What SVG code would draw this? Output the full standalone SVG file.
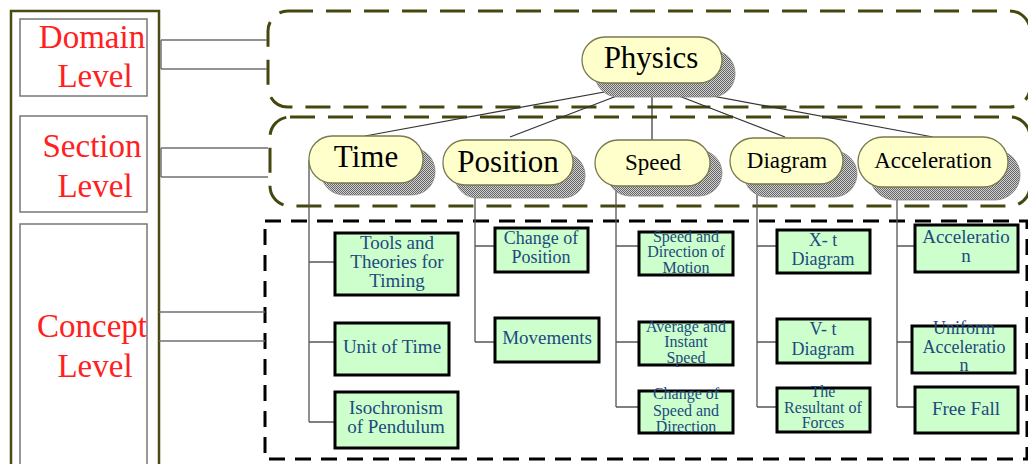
<svg xmlns="http://www.w3.org/2000/svg" width="1028" height="464" viewBox="0 0 1028 464">
<defs>
<pattern id="dots" width="2" height="2" patternUnits="userSpaceOnUse">
<rect width="2" height="2" fill="#d0d0d0"/>
<rect width="1" height="1" fill="#666"/>
<rect x="1" y="1" width="1" height="1" fill="#666"/>
</pattern>
<style>
.lvl{fill:none;stroke:#4a4a12;stroke-width:2.5}
.lbox{fill:#fff;stroke:#777;stroke-width:1.5}
.lt{font-family:"Liberation Serif",serif;font-size:33px;fill:#ff2020;text-anchor:middle}
.br{fill:none;stroke:#707070;stroke-width:1.5}
.zone{fill:none;stroke:#46460f;stroke-width:3;stroke-dasharray:25 13}
.czone{fill:none;stroke:#000;stroke-width:3;stroke-dasharray:16 10}
.sh{fill:url(#dots);stroke:#888;stroke-width:0.8}
.pill{fill:#ffffcc;stroke:#7a7a50;stroke-width:1.3}
.nt{font-family:"Liberation Serif",serif;fill:#000;text-anchor:middle}
.cb{fill:#ccffcc;stroke:#000;stroke-width:3}
.ct{font-family:"Liberation Serif",serif;fill:#1d4a7e;text-anchor:middle;font-size:19px}
.cm{font-size:18px}
.cs{font-size:16px}
.ln{fill:none;stroke:#333;stroke-width:1.2}
.gl{fill:none;stroke:#555;stroke-width:1.3}
</style>
</defs>
<rect width="1028" height="464" fill="#fff"/>

<g id="levels">
<rect class="lvl" x="11" y="11" width="148" height="470"/>
<g id="domain-level">
<rect class="lbox" x="20" y="19" width="127" height="77"/>
<text class="lt" x="92" y="48">Domain</text>
<text class="lt" x="95" y="87">Level</text>
</g>
<g id="section-level">
<rect class="lbox" x="20" y="116" width="127" height="96"/>
<text class="lt" x="92" y="157">Section</text>
<text class="lt" x="95" y="197">Level</text>
</g>
<g id="concept-level">
<rect class="lbox" x="20" y="224" width="127" height="260"/>
<text class="lt" x="92" y="337">Concept</text>
<text class="lt" x="95" y="377">Level</text>
</g>
</g>

<g id="zones">
<rect class="zone" x="268" y="11" width="762" height="96" rx="20" ry="20"/>
<rect class="zone" x="270" y="117" width="760" height="89" rx="20" ry="20"/>
<rect class="czone" x="265" y="221" width="762" height="238"/>
</g>

<g id="connectors">
<path class="br" d="M161,40 H267 M161,69 H267 M161,40 V69"/>
<path class="br" d="M161,148 H268 M161,177 H268 M161,148 V177"/>
<path class="br" d="M159,312 H265 M159,341 H265"/>
<path class="ln" d="M648,84 L365,136 M648,84 L510,137 M652,84 V140 M648,84 L785,137 M648,84 L933,137"/>
<path class="gl" d="M309,160 V422 M309,262 H335 M309,342 H335 M309,422 H335"/>
<path class="gl" d="M475,183 V342 M475,246 H495 M475,342 H495"/>
<path class="gl" d="M616,183 V407 M616,246 H639 M616,342 H639 M616,407 H639"/>
<path class="gl" d="M757,185 V407 M757,246 H777 M757,342 H777 M757,407 H777"/>
<path class="gl" d="M897,186 V407 M897,246 H915 M897,342 H912 M897,407 H915"/>
</g>

<g id="physics">
<rect class="sh" x="595" y="50" width="140" height="47" rx="23"/>
<rect class="pill" x="582" y="37" width="140" height="46" rx="23"/>
<text class="nt" x="651" y="68" font-size="31">Physics</text>
</g>
<g id="time">
<rect class="sh" x="321" y="148" width="114" height="47" rx="23"/>
<rect class="pill" x="309" y="136" width="114" height="47" rx="23"/>
<text class="nt" x="366" y="167" font-size="31">Time</text>
</g>
<g id="position">
<rect class="sh" x="455" y="153" width="130" height="45" rx="22"/>
<rect class="pill" x="443" y="140" width="130" height="45" rx="22"/>
<text class="nt" x="508" y="172" font-size="31">Position</text>
</g>
<g id="speed">
<rect class="sh" x="607" y="150" width="115" height="46" rx="23"/>
<rect class="pill" x="595" y="140" width="115" height="46" rx="23"/>
<text class="nt" x="653" y="170" font-size="23">Speed</text>
</g>
<g id="diagram">
<rect class="sh" x="744" y="151" width="113" height="46" rx="23"/>
<rect class="pill" x="730" y="138" width="113" height="46" rx="23"/>
<text class="nt" x="787" y="168" font-size="23">Diagram</text>
</g>
<g id="acceleration">
<rect class="sh" x="870" y="150" width="150" height="50" rx="25"/>
<rect class="pill" x="858" y="137" width="150" height="50" rx="25"/>
<text class="nt" x="933" y="168" font-size="23">Acceleration</text>
</g>

<g id="tools">
<rect class="cb" x="335" y="233" width="123" height="62"/>
<text class="ct" x="397" y="249">Tools and</text>
<text class="ct" x="397" y="268">Theories for</text>
<text class="ct" x="397" y="287">Timing</text>
</g>
<g id="unit-of-time">
<rect class="cb" x="335" y="323" width="114" height="52"/>
<text class="ct" x="392" y="353">Unit of Time</text>
</g>
<g id="isochronism">
<rect class="cb" x="335" y="392" width="123" height="56"/>
<text class="ct" x="396" y="414">Isochronism</text>
<text class="ct" x="396" y="433">of Pendulum</text>
</g>
<g id="change-of-position">
<rect class="cb" x="495" y="228" width="93" height="44"/>
<text class="ct cm" x="541" y="244">Change of</text>
<text class="ct cm" x="541" y="263">Position</text>
</g>
<g id="movements">
<rect class="cb" x="495" y="318" width="104" height="44"/>
<text class="ct" x="547" y="344">Movements</text>
</g>
<g id="speed-direction">
<rect class="cb" x="639" y="232" width="94" height="43"/>
<text class="ct cs" x="686" y="242">Speed and</text>
<text class="ct cs" x="686" y="257">Direction of</text>
<text class="ct cs" x="686" y="273">Motion</text>
</g>
<g id="average-instant">
<rect class="cb" x="639" y="322" width="94" height="43"/>
<text class="ct cs" x="686" y="332">Average and</text>
<text class="ct cs" x="686" y="347">Instant</text>
<text class="ct cs" x="686" y="363">Speed</text>
</g>
<g id="change-speed">
<rect class="cb" x="639" y="391" width="94" height="42"/>
<text class="ct cs" x="686" y="399">Change of</text>
<text class="ct cs" x="686" y="416">Speed and</text>
<text class="ct cs" x="686" y="432">Direction</text>
</g>
<g id="xt">
<rect class="cb" x="777" y="230" width="93" height="43"/>
<text class="ct cm" x="823" y="246">X- t</text>
<text class="ct cm" x="823" y="265">Diagram</text>
</g>
<g id="vt">
<rect class="cb" x="777" y="319" width="93" height="44"/>
<text class="ct cm" x="823" y="335">V- t</text>
<text class="ct cm" x="823" y="355">Diagram</text>
</g>
<g id="resultant">
<rect class="cb" x="777" y="388" width="93" height="44"/>
<text class="ct cs" x="823" y="397">The</text>
<text class="ct cs" x="823" y="413">Resultant of</text>
<text class="ct cs" x="823" y="428">Forces</text>
</g>
<g id="accel">
<rect class="cb" x="915" y="225" width="103" height="47"/>
<text class="ct" x="966" y="243">Acceleratio</text>
<text class="ct" x="966" y="262">n</text>
</g>
<g id="uniform">
<rect class="cb" x="912" y="326" width="103" height="47"/>
<text class="ct cm" x="964" y="334">Uniform</text>
<text class="ct cm" x="964" y="353">Acceleratio</text>
<text class="ct cm" x="964" y="371">n</text>
</g>
<g id="free-fall">
<rect class="cb" x="915" y="387" width="103" height="46"/>
<text class="ct" x="966" y="415">Free Fall</text>
</g>
</svg>
